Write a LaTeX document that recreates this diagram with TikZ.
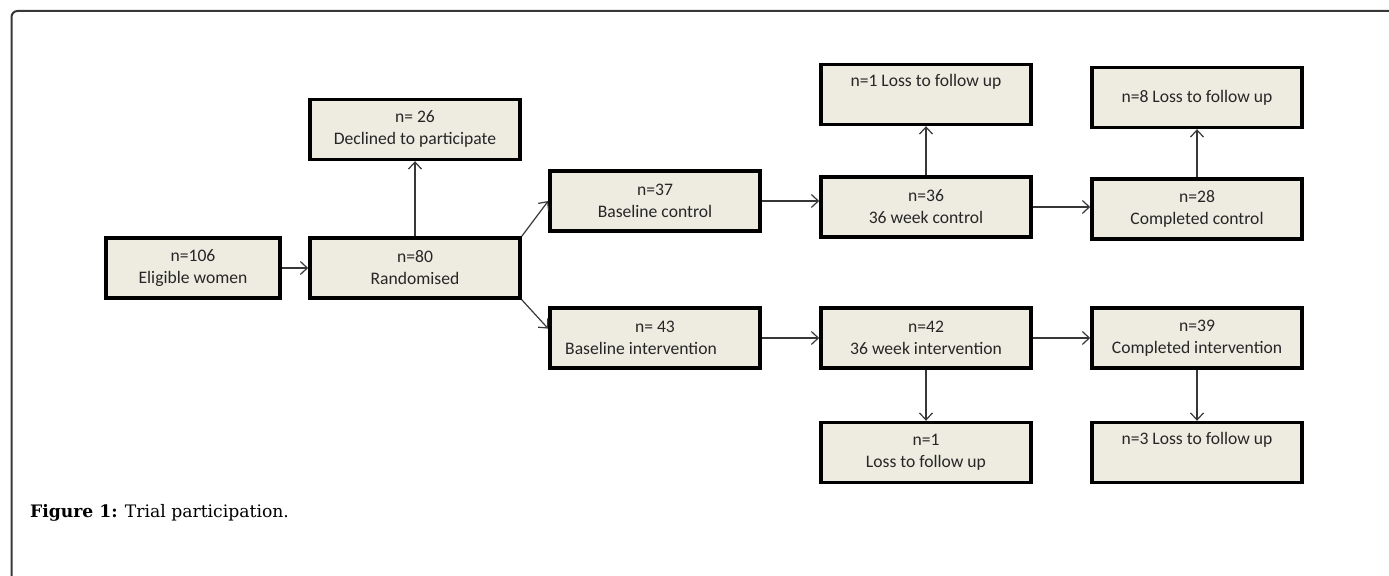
\documentclass[tikz,border=0pt]{standalone}
\usepackage{fontspec}
\setmainfont{DejaVu Serif}
\newfontfamily\boxfont{Carlito}
\usetikzlibrary{arrows.meta,positioning}
\definecolor{boxfill}{RGB}{238,236,225}
\definecolor{linegray}{RGB}{55,55,55}

\begin{document}
\begin{tikzpicture}[x=0.5pt, y=-0.5pt,
    main box/.style={rectangle, draw=black, line width=1.8pt, fill=boxfill,
        minimum width=105pt, minimum height=30pt, inner sep=1pt, align=center,
        font=\boxfont\fontsize{8.8}{11}\selectfont, text=black!85},
    flow/.style={draw=linegray, line width=0.6pt,
        -{Straight Barb[length=3.5pt,width=6.5pt]}}]

  \useasboundingbox (0,0) rectangle (1389,576);
  \draw[linegray, line width=1pt, rounded corners=3pt] (11.5,576) -- (11.5,11) -- (1389,11);

  % enrolment
  \node[main box, minimum width=87pt] (elig) at (193,268) {n=106\\Eligible women};
  \node[main box] (rand) at (415,268) {n=80\\Randomised};
  \node[main box] (decl) [above=37.5pt of rand] {n= 26\\Declined to participate};

  % control arm
  \node[main box] (basec) at (655,201) {n=37\\Baseline control};
  \node[main box] (wkc) at (926,207) {n=36\\36 week control};
  \node[main box] (lossa) [above=24.5pt of wkc] {n=1 Loss to follow up\\ \strut};
  \node[main box] (compc) at (1197,209) {n=28\\Completed control};
  \node[main box] (lossb) [above=24pt of compc] {n=8 Loss to follow up};

  % intervention arm
  \node[main box] (basei) at (655,338) {n= 43\\Baseline intervention\hspace*{14pt}};
  \node[main box] (wki) at (926,338) {n=42\\36 week intervention};
  \node[main box] (compi) at (1197,338) {n=39\\Completed intervention};
  \node[main box] (lossc) [below=25.5pt of wki] {n=1\\Loss to follow up};
  \node[main box] (lossd) [below=25.5pt of compi] {n=3 Loss to follow up\\ \strut};

  \path
    (elig) edge[flow] (rand)
    (rand) edge[flow] (decl)
    (rand.north east) edge[flow] (basec.west)
    (rand.south east) edge[flow] (basei.175)

    (basec.east) edge[flow] (basec.east -| wkc.west)
    (wkc) edge[flow] (lossa)
    (wkc.east) edge[flow] (wkc.east -| compc.west)
    (compc) edge[flow] (lossb)

    (basei) edge[flow] (wki)
    (wki) edge[flow] (compi)
    (wki) edge[flow] (lossc)
    (compi) edge[flow] (lossd);

  \node[anchor=base west, font=\fontsize{8.6}{10}\selectfont] (caption) at (23,518)
      {\textbf{Figure 1:} Trial participation.};

\end{tikzpicture}
\end{document}
